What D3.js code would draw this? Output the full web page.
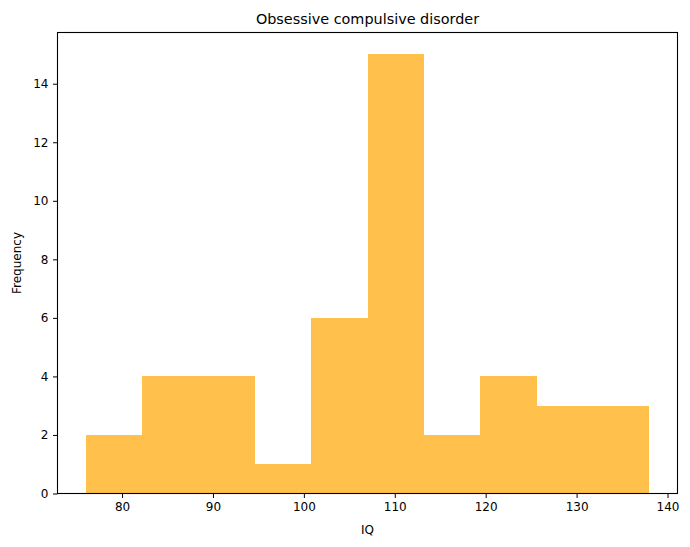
<!DOCTYPE html>
<html><head><meta charset="utf-8">
<script src="https://cdn.jsdelivr.net/npm/d3@7"></script>
<style>body{margin:0;background:#fff}text{font-family:"DejaVu Sans",sans-serif}</style>
</head><body>
<svg id="c" width="690" height="547"></svg>
<script>
const binEdges = [76.0, 82.2, 88.4, 94.6, 100.8, 107.0, 113.2, 119.4, 125.6, 131.8, 138.0];
const counts = [2, 4, 4, 1, 6, 15, 2, 4, 3, 3];
const xTicks = [80, 90, 100, 110, 120, 130, 140];
const yTicks = [0, 2, 4, 6, 8, 10, 12, 14];
const title = "Obsessive compulsive disorder";
const xLabel = "IQ";
const yLabel = "Frequency";

const L = 57.5, R = 677.5, T = 32.5, B = 493.5;
const svg = d3.select("#c");
const lo = binEdges[0], hi = binEdges[binEdges.length-1], pad = (hi-lo)*0.05;
const x = d3.scaleLinear().domain([lo-pad, hi+pad]).range([L, R]);
const y = d3.scaleLinear().domain([0, d3.max(counts)*1.05]).range([B, T]);

svg.append("g").selectAll("rect").data(counts).join("rect")
  .attr("x", (d,i)=>x(binEdges[i]))
  .attr("width", (d,i)=>x(binEdges[i+1])-x(binEdges[i]))
  .attr("y", d=>y(d)).attr("height", d=>y(0)-y(d))
  .attr("fill", "orange").attr("fill-opacity", 0.7)
  .attr("shape-rendering","crispEdges");

const xa = svg.append("g").attr("transform",`translate(0,${B})`)
  .call(d3.axisBottom(x).tickValues(xTicks).tickSize(4.5).tickPadding(4.5).tickFormat(d3.format("d")));
const ya = svg.append("g").attr("transform",`translate(${L},0)`)
  .call(d3.axisLeft(y).tickValues(yTicks).tickSize(4.5).tickPadding(4.5).tickFormat(d3.format("d")));
[xa,ya].forEach(g=>{g.select(".domain").remove();g.selectAll("text").attr("font-size",12).attr("fill","#000").attr("font-family","DejaVu Sans");g.selectAll("line").attr("stroke","#000").attr("stroke-width",1);});

svg.append("rect").attr("x",L).attr("y",T).attr("width",R-L).attr("height",B-T)
  .attr("fill","none").attr("stroke","#000").attr("stroke-width",1.1);

svg.append("text").attr("x",(L+R)/2).attr("y",T-9).attr("text-anchor","middle")
  .attr("font-size",14.4).text(title);
svg.append("text").attr("x",(L+R)/2).attr("y",534).attr("text-anchor","middle")
  .attr("font-size",12).text(xLabel);
svg.append("text").attr("transform",`translate(21,${(T+B)/2}) rotate(-90)`).attr("text-anchor","middle")
  .attr("font-size",12).text(yLabel);
</script>
</body></html>
